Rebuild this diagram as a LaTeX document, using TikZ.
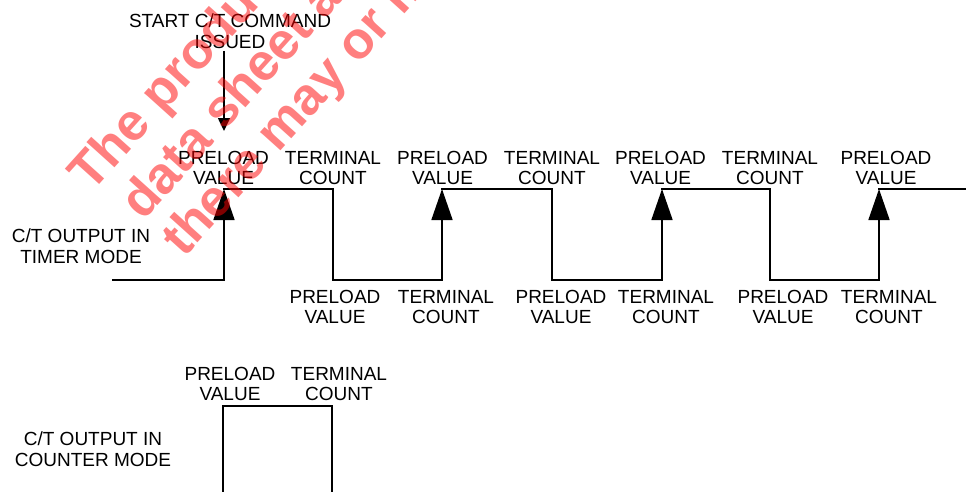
\documentclass[tikz,border=0pt]{standalone}
\usepackage{fontspec}
\setmainfont{Liberation Sans}
\usetikzlibrary{arrows.meta}

\begin{document}
\begin{tikzpicture}[x=1pt,y=-1pt,
  lbl/.style={align=center,inner sep=0pt,anchor=north,font=\fontsize{19}{20.5}\selectfont},
  wave/.style={line width=1.6pt,line cap=rect},
  rise/.style={wave,-{Triangle[width=21pt,length=31pt]}},
  cmdarrow/.style={line width=1.6pt,-{Triangle[width=12pt,length=13pt]}},
  wmark/.style={anchor=base west,rotate=48,inner sep=0pt,text=red,text opacity=0.5,
    font=\fontsize{52}{56}\selectfont\bfseries}]
\useasboundingbox (0,0) rectangle (966,491);

% timer mode waveform
\coordinate (start) at (113,280);
\coordinate (r1lo) at (224,280); \coordinate (r1hi) at (224,189);
\coordinate (f1hi) at (333,189); \coordinate (f1lo) at (333,280);
\coordinate (r2lo) at (442,280); \coordinate (r2hi) at (442,189);
\coordinate (f2hi) at (552,189); \coordinate (f2lo) at (552,280);
\coordinate (r3lo) at (662,280); \coordinate (r3hi) at (662,189);
\coordinate (f3hi) at (770,189); \coordinate (f3lo) at (770,280);
\coordinate (r4lo) at (879,280); \coordinate (r4hi) at (879,189);
\coordinate (stop) at (966,189);

\draw[wave] (start) -- (r1lo);
\draw[rise] (r1lo) -- (r1hi);
\draw[wave] (r1hi) -- (f1hi) -- (f1lo) -- (r2lo);
\draw[rise] (r2lo) -- (r2hi);
\draw[wave] (r2hi) -- (f2hi) -- (f2lo) -- (r3lo);
\draw[rise] (r3lo) -- (r3hi);
\draw[wave] (r3hi) -- (f3hi) -- (f3lo) -- (r4lo);
\draw[rise] (r4lo) -- (r4hi);
\draw[wave] (r4hi) -- (stop);

% start command
\path (230,14) node[lbl] (cmd) {START C/T COMMAND\\ISSUED};
\coordinate (cmdtip) at (224,131);
\draw[cmdarrow,shorten <=2pt] (cmd.south -| r1hi) -- (cmdtip);

% labels above
\path (223.5,151) node[lbl] (P1) {PRELOAD\\VALUE};
\path (333,151) node[lbl] (T1) {TERMINAL\\COUNT};
\path (442.5,151) node[lbl] (P2) {PRELOAD\\VALUE};
\path (552,151) node[lbl] (T2) {TERMINAL\\COUNT};
\path (660.5,151) node[lbl] (P3) {PRELOAD\\VALUE};
\path (770,151) node[lbl] (T3) {TERMINAL\\COUNT};
\path (886,151) node[lbl] (P4) {PRELOAD\\VALUE};

% labels below
\path (335,290) node[lbl] (PL1) {PRELOAD\\VALUE};
\path (446,290) node[lbl] (TL1) {TERMINAL\\COUNT};
\path (561,290) node[lbl] (PL2) {PRELOAD\\VALUE};
\path (666,290) node[lbl] (TL2) {TERMINAL\\COUNT};
\path (783,290) node[lbl] (PL3) {PRELOAD\\VALUE};
\path (889,290) node[lbl] (TL3) {TERMINAL\\COUNT};

\path (81,229) node[lbl] (timer) {C/T OUTPUT IN\\TIMER MODE};

% counter mode
\coordinate (c1lo) at (223,491); \coordinate (c1hi) at (223,406);
\coordinate (c2hi) at (332,406); \coordinate (c2lo) at (332,491);
\draw[wave] (c1lo) -- (c1hi) -- (c2hi) -- (c2lo);
\path (230,367) node[lbl] (CP) {PRELOAD\\VALUE};
\path (339,367) node[lbl] (CT) {TERMINAL\\COUNT};
\path (93,432) node[lbl] (counter) {C/T OUTPUT IN\\COUNTER MODE};

% watermark
\path (91,194) node[wmark] (wm1) {The product};
\path (143,222) node[wmark] (wm2) {data sheet a};
\path (184,259) node[wmark] (wm3) {there may or m};
\end{tikzpicture}
\end{document}
